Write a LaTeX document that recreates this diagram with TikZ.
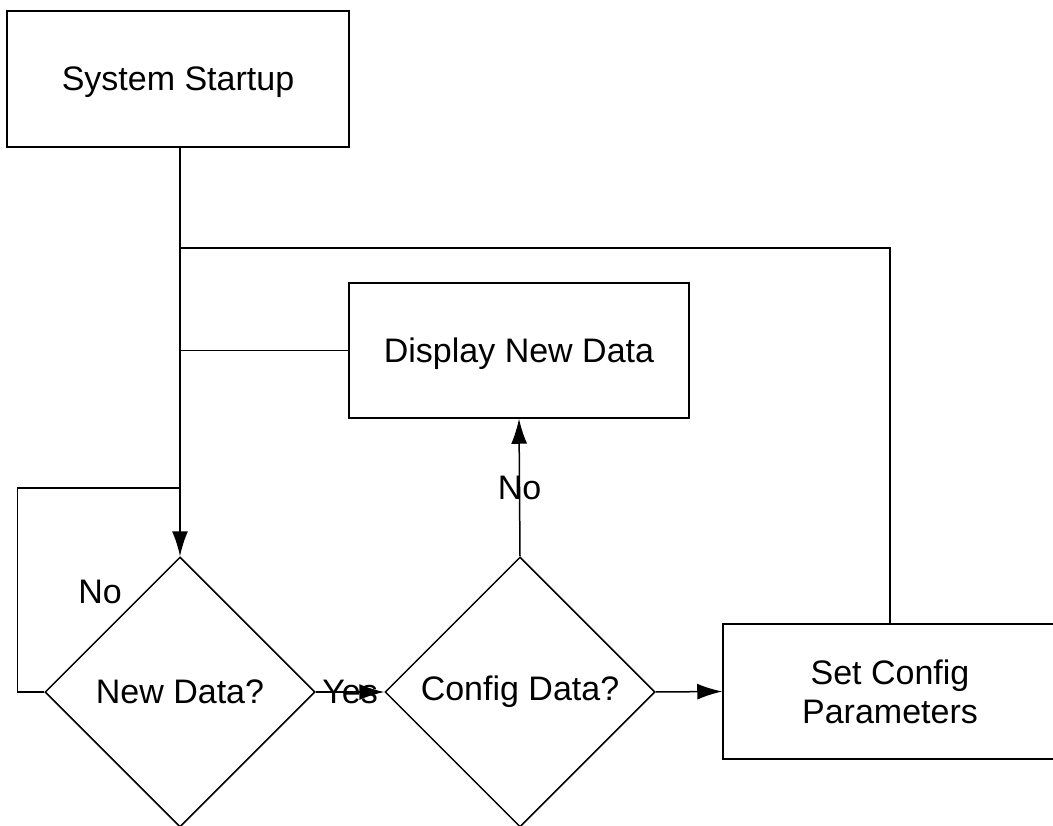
\documentclass[tikz,border=0pt]{standalone}
\usepackage{fontspec}
\setmainfont{Liberation Sans}
\usetikzlibrary{shapes.geometric,arrows.meta}

\begin{document}
\begin{tikzpicture}[x=1pt,y=-1pt,line width=1.5pt,
    font=\fontsize{34}{39}\selectfont,
    arr/.style={-{Latex[length=25pt,width=16pt]}},
    box/.style={draw,rectangle,inner sep=0pt,align=center,text depth=0pt},
    decision/.style={draw,diamond,aspect=1,inner sep=0pt,minimum width=270pt,minimum height=270pt}]
            \useasboundingbox (0,0) rectangle (1053,826);

            % draw the boxes
            \node[box,minimum width=342pt,minimum height=136pt] (start) at (178,79) {System Startup};
            \node[box,minimum width=340pt,minimum height=135pt] (display) at (519,350.5) {Display New Data};
            \node[box,minimum width=334pt,minimum height=135pt] (setcfg) at (890,691.5) {Set Config\\Parameters};

            % draw the two decisions
            \node[decision] (newdata) at (180,692) {New Data?};
            \node[decision] (config) at (520,692) {Config Data?};

            % joints on the main line
            \coordinate (jtop) at (180,248);
            \coordinate (jdisp) at (180,350.5);
            \coordinate (jloop) at (180,488);

            % main line down into the first decision
            \draw[arr] (start.south -| newdata.north) -- (newdata.north);

            % lines coming back
            \draw (setcfg.north) |- (jtop);
            \draw (display.west) -- (jdisp);
            \draw (newdata.west) -- ++(-27,0) |- (jloop);
            \node (nolabel) at (100,592) {No};

            % yes and no branches
            \draw[arr] (newdata.east) -- (config.west) node[midway] {Yes};
            \draw[arr] (config.north) -- (display.south) node[midway] {No};
            \draw[arr] (config.east) -- (setcfg.west);
        \end{tikzpicture}
\end{document}
